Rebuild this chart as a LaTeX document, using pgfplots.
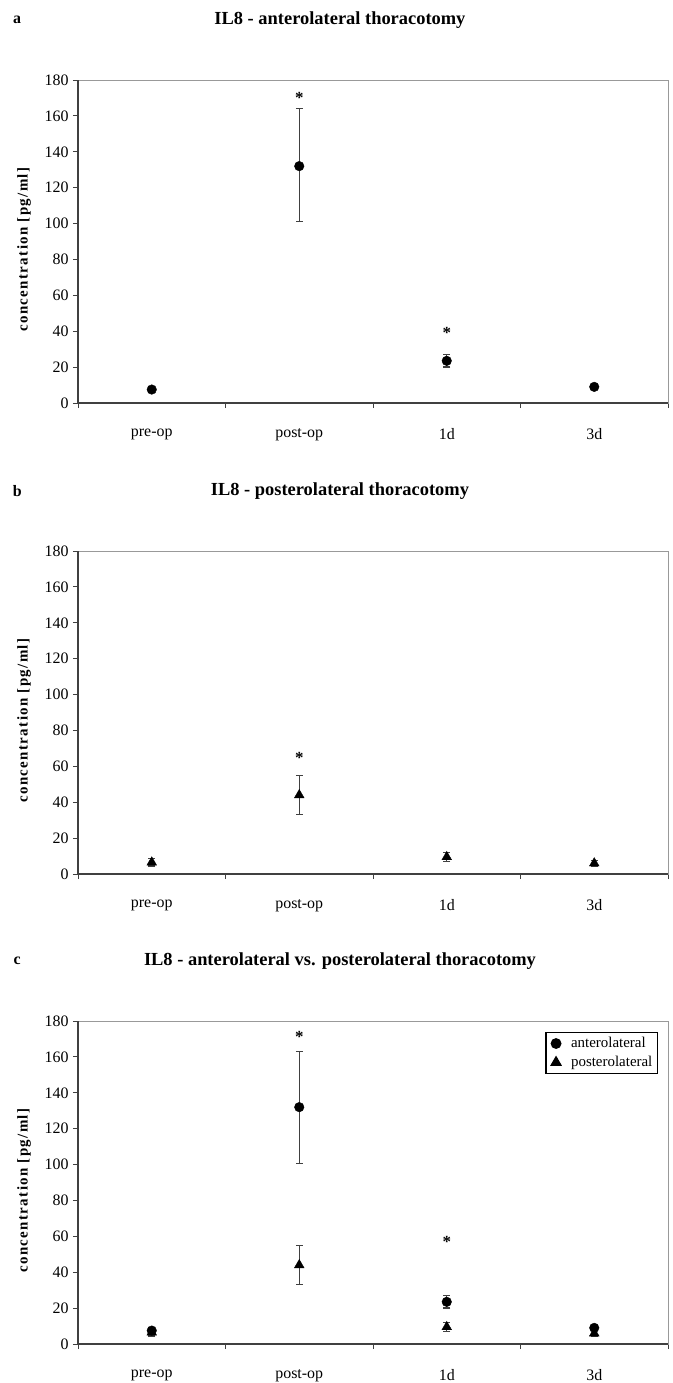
\documentclass[border=0pt]{standalone}
\usepackage{fontspec}
\setmainfont{Liberation Serif}
\newfontfamily\spaced[LetterSpace=9]{Liberation Serif}
\usepackage{pgfplots}
\pgfplotsset{compat=1.18}

\pgfplotsset{
  panel/.style={
    scale only axis, width=590bp, height=323bp,
    anchor=south west, clip=false,
    xmin=0.5, xmax=4.5, ymin=0, ymax=180,
    ytick={0,20,...,180},
    xtick={1,2,3,4}, xticklabels={pre-op,post-op,1d,3d},
    minor xtick={0.5,1.5,2.5,3.5,4.5},
    major x tick style={draw=none},
    tick align=outside, ytick pos=left, xtick pos=bottom,
    major tick length=5bp, minor tick length=5bp,
    tick style={black!75, line width=1bp},
    axis line style={black!40, line width=1bp},
    /pgf/number format/assume math mode=true,
    ticklabel style={font=\fontsize{16}{16}\selectfont},
    xticklabel style={yshift=-17bp},
    yticklabel style={xshift=-1bp},
    ylabel={concentration [pg/ml]},
    ylabel style={at={(rel axis cs:-0.0915,0.475)}, anchor=center,
      font=\spaced\bfseries\fontsize{15}{15}\selectfont},
    title style={at={(rel axis cs:0.444,1.167)}, anchor=center, yshift=0pt,
      font=\bfseries\fontsize{18.5}{18.5}\selectfont},
    after end axis/.append code={
      \draw[black!75, line width=1.3bp] (rel axis cs:0,1) -- (rel axis cs:0,0) -- (rel axis cs:1,0);
    },
  },
  letter/.style={after end axis/.append code={
      \node[font=\bfseries\fontsize{16}{16}\selectfont] at (rel axis cs:-0.103,1.186) {#1};}},
  err/.style={error bars/.cd, y dir=both, y explicit,
    error bar style={black!75, line width=1.3bp},
    error mark options={rotate=90, black!75, line width=1.3bp, mark size=3.5bp}},
  mlegend/.style={legend image code/.code={
    \path[draw=none, fill=none] (0bp,-0.1bp) rectangle (20bp,0.1bp);
    \path[##1, draw=none, mark repeat=2, mark phase=2] plot coordinates {(0bp,0bp) (7bp,0bp) (20bp,0bp)};}},
  circ/.style={only marks, mark=*, mark size=4.8bp, black, mlegend, err},
  tri/.style={only marks, mark=triangle*, mark size=5.6bp, black, mlegend, err},
  stars/.style={forget plot, only marks, mark=text, text mark={*}, text mark as node=true,
    text mark style={font=\bfseries\fontsize{17}{17}\selectfont, yshift=-2bp}},
}

\begin{document}
\begin{tikzpicture}
\useasboundingbox (0,0) rectangle (673bp,-1383bp);

% a
\begin{axis}[panel, letter=a, at={(78bp,-403bp)},
  title={IL8 - anterolateral thoracotomy}]
\addplot[circ] coordinates {
  (1,7.5) +- (0,1.5)
  (2,132) += (0,32) -= (0,31)
  (3,23.5) +- (0,3.5)
  (4,9) +- (0,1.5)
};
\addplot[stars] coordinates {(2,171) (3,40)};
\end{axis}

% b
\begin{axis}[panel, letter=b, at={(78bp,-874bp)},
  title={IL8 - posterolateral thoracotomy}]
\addplot[tri] coordinates {
  (1,6.5) +- (0,2)
  (2,44) += (0,11) -= (0,10.7)
  (3,9.5) +- (0,2.5)
  (4,6) +- (0,1.5)
};
\addplot[stars] coordinates {(2,66)};
\end{axis}

% c
\begin{axis}[panel, letter=c, at={(78bp,-1344bp)},
  title={IL8 - anterolateral vs. posterolateral thoracotomy},
  legend style={at={(rel axis cs:0.983,0.966)}, anchor=north east,
    draw=black, line width=1.2bp, font=\fontsize{15}{15}\selectfont,
    inner xsep=3bp, inner ysep=3bp, row sep=3bp},
  reverse legend, legend cell align=left]
\addplot[tri] coordinates {
  (1,6.5) +- (0,2)
  (2,44) += (0,11) -= (0,10.7)
  (3,9.5) +- (0,2.5)
  (4,6) +- (0,1.5)
};
\addplot[circ] coordinates {
  (1,7.5) +- (0,1.5)
  (2,132) += (0,31) -= (0,31.5)
  (3,23.5) +- (0,3.5)
  (4,9) +- (0,1.5)
};
\legend{posterolateral,anterolateral}
\addplot[stars] coordinates {(2,172) (3,58)};
\end{axis}
\end{tikzpicture}
\end{document}
